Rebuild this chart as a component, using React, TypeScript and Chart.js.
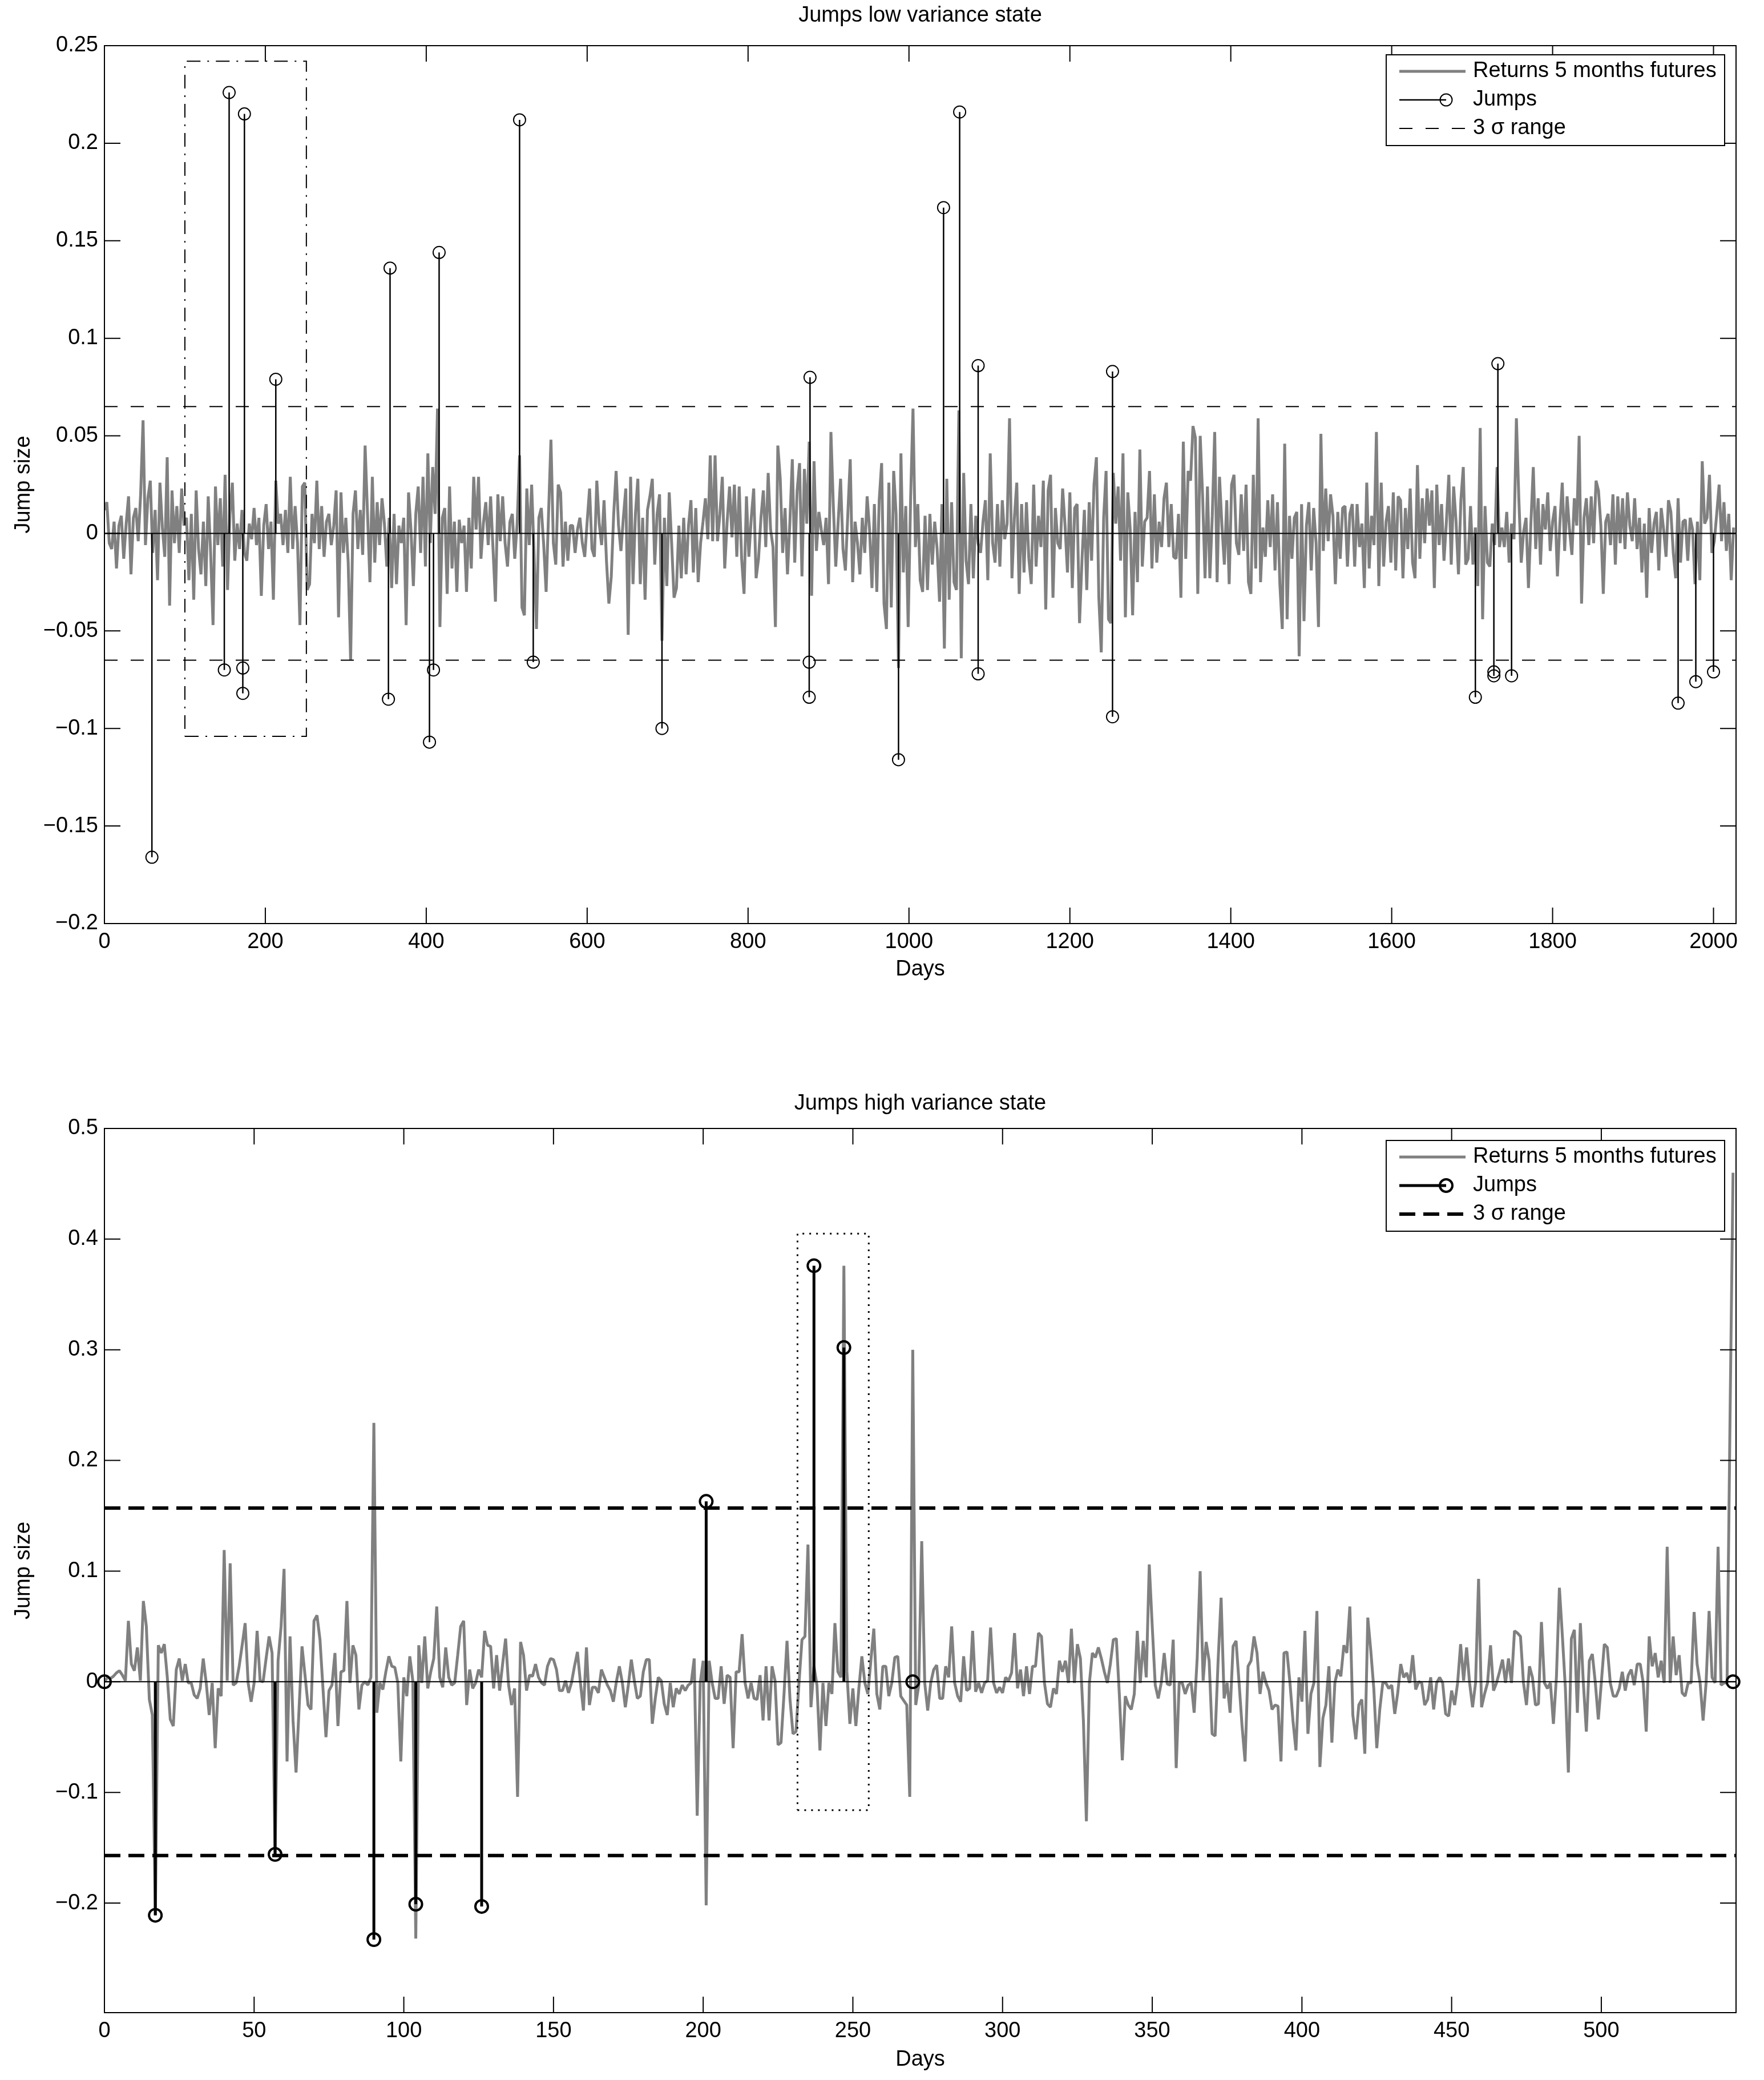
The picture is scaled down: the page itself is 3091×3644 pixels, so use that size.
import React, { useEffect, useRef } from 'react';
import { Chart, registerables } from 'chart.js';

Chart.register(...registerables);

const FONT = "'Liberation Sans', Arial, Helvetica, sans-serif";
const FONT_SIZE = 38;
const GREY = '#808080';
const BLACK = '#000000';

const legendLabels = ['Returns 5 months futures', 'Jumps', '3 \u03c3 range'];
const xAxisLabel = 'Days';
const yAxisLabel = 'Jump size';

// ---------------- Panel 1: low variance state ----------------
const lowTitle = 'Jumps low variance state';
// returns read every 3 days (day = index * 3), values in thousandths
const lowSampleStepDays = 3;
const lowReturnsMilli = [
  12, 16, -5, -8, 6, -18, 4, 9, -13, 5,
  19, -21, 8, 13, -4, 20, 58, -6, 18, 27,
  -10, 12, -24, 26, 3, -12, 39, -37, 22, -5,
  14, -10, 23, 4, 8, -24, 10, -34, 22, -8,
  -21, 6, -27, 19, -10, -47, 24, -6, 18, -17,
  30, -29, 10, 26, -14, 5, -8, 12, -10, -14,
  5, -3, 13, -6, 8, -32, 4, 15, -8, 6,
  -34, 27, 5, 10, -6, 12, -10, 29, -8, 14,
  -5, -47, 24, 26, -29, -26, 10, -5, 27, -8,
  14, -12, 6, 10, -6, 4, 22, -43, 21, -10,
  8, -15, -65, 10, 22, -8, 12, -11, 45, 10,
  -25, 29, -15, 16,
  -6, 18, 5, -17, 8, -28, 10, -26, 4, -5,
  8, -47, 21, 2, -27, 10, 24, -10, 29, -17,
  41, -5, 34, 10, 64, -48, 8, 13, -31, 24,
  -18, 6, -30, 7, -5, 4, -30, 8, -18, 29,
  2, 29, -13, 5, 16, -6, 19, -8, -35, 20,
  -4, 19, -5, -17, 6, 10, -13, 5, 40, -38,
  -42, 23, -6, 25, -10, -49, 8, 13, -6, -30,
  10, 48, -5, -16, 25, 21, -17, 6, -14, 4,
  4, -10, 2, 8, -5, -12, 6, 23, -8, -12,
  27, 5, -6, 17, -14, -36, -22, 10, 32, 4,
  -9, 8, 23, -52, 29, -26, 10, 28, -26, 8,
  -34, 12, 19,
  28, -16, 10, 20, -55, 8, -27, 21, -5, -33,
  -28, 4, -23, 8, -21, 4, 17, -20, 13, -25,
  -5, 6, 18, -3, 40, -4, 40, -4, 10, 29,
  -18, 6, 24, -2, 25, -12, 24, -13, -31, 19,
  -12, 8, 23, -23, -13, 8, 22, -7, 31, 2,
  -7, -48, 45, 28, -10, 13, -21, 6, 38, -15,
  22, 36, -22, 33, 5, 47, -32, 37, -9, 11,
  2, -6, 8, -26, 52, 14, -17, 6, 28, -8,
  -19, 10, 38, -25, 6, -5, -21, 8, -10, 19,
  2, -28, 15, -30, 17, 36, -36, -49, 26, -38,
  32, 10, -69, 41, -20, 14, -48, 17, 64, -7,
  15, -24, -30,
  9, -29, 10, -16, 6, -8, -35, 15, -59, 28,
  -34, 16, -25, -29, 63, -64, 31, -14, -26, 15,
  -23, 9, -5, -10, 6, 17, -24, 41, -5, -15,
  15, -17, 17, -3, 5, 59, -23, 8, 26, -31,
  15, -20, 16, -13, -26, 25, -17, 9, -7, 27,
  -39, 22, 30, -33, 13, -5, -8, 23, 4, -20,
  21, -28, 13, 15, -46, -14, 12, -29, 16, -14,
  25, 39, -33, -61, 8, 32, -44, -46, 31, 5,
  24, -14, 41, -43, 21, 2, -42, 11, -25, 43,
  -17, 6, 8, 32, -18, 20, -15, 6, -7, 18,
  26, -7, 15, -12, -13, 10, -33, 47, -13, 32,
  27, 55,
  49, -31, 50, 19, -23, 24, -23, 9, 52, -25,
  29, 4, -16, 17, -26, 25, 30, -5, -11, 20,
  -9, 25, -25, -31, 30, -18, 59, -25, 3, -12,
  17, -7, 20, -19, 16, -26, -49, 46, -44, 9,
  -13, 8, 11, -63, 15, -45, 4, 16, -19, 13,
  -5, -48, 51, -9, 23, -4, 20, 9, -26, 11,
  -13, 13, 14, -17, 10, 15, -17, 15, -7, 5,
  -28, 26, -18, 9, -6, 52, -27, 26, -17, 6,
  14, -15, 21, -19, 19, 17, -23, 13, -8, 23,
  -15, -23, 35, -13, 18, -5, 23, 4, 22, -28,
  25, -6, 15, -14, 6, 30, -16, 24, 6, -21,
  17, 34, -16,
  -13, 14, -16, 3, -27, 54, -44, 14, -15, -17,
  5, -6, 34, -7, 3, -7, 11, -15, 5, -3,
  59, 18, -15, 1, 8, -28, 5, 34, -8, 18,
  -16, 15, 2, 21, -9, 6, 14, -22, 5, 26,
  -9, 19, 2, -11, 18, 4, 50, -36, 8, 18,
  -6, 19, -5, 27, 22, 4, -31, 6, 10, -6,
  20, -16, 19, -5, 18, -8, 21, 4, -4, 18,
  -8, 8, -20, 5, -33, 13, -10, 5, 11, -19,
  13, 2, -12, 17, 11, -10, -23, 18, -15, 6,
  7, -14, 8, 2, -26, 6, -24, 37, 5, 8,
  30, -10, -4, 10, 25, -4, 16, -9, 10, -24,
  3,
];
const lowJumpDays = [59, 149, 155, 172, 172, 174, 213, 353, 355, 404, 409, 416, 516, 533, 693, 876, 876, 877, 987, 1043, 1063, 1086, 1086, 1253, 1253, 1704, 1727, 1727, 1732, 1749, 1956, 1978, 2000];
const lowJumpSizes = [-0.166, -0.07, 0.226, -0.069, -0.082, 0.215, 0.079, -0.085, 0.136, -0.107, -0.07, 0.144, 0.212, -0.066, -0.1, -0.066, -0.084, 0.08, -0.116, 0.167, 0.216, 0.086, -0.072, 0.083, -0.094, -0.084, -0.071, -0.073, 0.087, -0.073, -0.087, -0.076, -0.071];
const lowSigma3 = 0.065;
const lowBoxDays = [100, 251];
const lowBoxSizes = [-0.104, 0.242];
const lowXRange = [0, 2028];
const lowYRange = [-0.2, 0.25];
const lowXTicks = [0, 200, 400, 600, 800, 1000, 1200, 1400, 1600, 1800, 2000];
const lowYTicks = [-0.2, -0.15, -0.1, -0.05, 0, 0.05, 0.1, 0.15, 0.2, 0.25];

// ---------------- Panel 2: high variance state ----------------
const highTitle = 'Jumps high variance state';
const highSampleStepDays = 1;
const highReturnsMilli = [
  0, 4, 3, 5, 8, 10, 6, 1, 55, 16,
  10, 31, 1, 73, 50, -16, -30, -211, 33, 26,
  34, 4, -34, -40, 11, 21, 1, 16, -1, -1,
  -12, -15, -6, 21, -1, -30, -1, -60, -6, -13,
  119, 1, 107, -3, -1, 14, 33, 53, -1, -18,
  -1, 46, 1, 0, 21, 41, 26, -157, 19, 50,
  102, -72, 41, -35, -82, -25, 32, 6, -21, -25,
  55, 60, 38, -6, -50, -8, -3, 26, -40, 9,
  10, 73, -1, 33, 24, -25, -3, 0, -3, 4,
  234, -28, -1, -7, 9, 23, 14, 13, -1, -72,
  4, -13, 23, 1, -232, 33, -1, 41, -6, 9,
  21, 68, 4, -5, 31, 4, -3, -1, 24, 50,
  55, -21, 11, -6, -1, 11, 4, 46, 33, 32,
  -6, 24, -8, 16, 39, -3, -21, -6, -104, 36,
  24, -8, 6, 5, 16, 4, -1, -3, 14, 21,
  20, 11, -8, -8, 1, -10, -1, 14, 27, -1,
  -26, 31, -21, -5, -5, -10, 11, 4, -3, -8,
  -18, 0, 14, -1, -23, -3, 20, 1, -15, -13,
  9, 20, 20, -38, -15, 4, 1, -20, -30, -1,
  -23, -6, -11, -3, -8, -3, -1, 21, -121, -1,
  19, -202, 19, -1, -15, -15, 14, -20, 6, 4,
  -60, 9, 9, 43, -1, -15, -1, -15, -16, 6,
  -35, 14, -35, 14, 1, -57, -55, -11, 37, -16,
  -47, -45, -1, 38, 41, 124, -23, 14, -3, -62,
  -1, -40, -1, -11, 53, 9, 4, 376, 9, -38,
  -6, -40, -6, 23, -1, -11, 19, 48, -11, -25,
  14, 14, -13, -1, 22, 23, -13, -17, -21, -104,
  300, -21, -3, 127, -1, -26, -1, 11, 15, -15,
  -15, 14, 4, 50, -1, -13, -18, 23, -8, -6,
  46, -9, -1, -10, -1, 1, 49, -1, -10, -5,
  -10, 4, 1, 8, 44, -6, 11, -13, 14, -11,
  14, 14, 44, 41, -1, -20, -23, -6, -11, 19,
  9, 19, -1, 48, -1, 34, 21, -35, -126, -1,
  26, 22, 31, 21, 9, -1, 16, 38, 39, -11,
  -71, -13, -21, -25, -11, 46, -1, 37, 4, 106,
  50, -3, -15, -1, 26, -2, -3, 38, -78, -1,
  -1, -11, -3, -1, -28, 21, 100, 1, 36, 19,
  -47, -49, 19, 76, -15, -1, -28, 32, 37, -1,
  -40, -72, 14, 19, 41, 26, -11, 9, -1, -8,
  -25, -21, -22, -72, 26, 27, -1, -35, -62, 4,
  -18, 46, -47, -11, -1, 64, -77, -33, -21, 14,
  -55, -1, 11, 5, 33, 26, 68, -30, -52, -21,
  -16, -65, 58, 28, -6, -60, -25, -1, -1, -6,
  -3, -29, -10, 16, 4, 8, -1, 24, -7, 0,
  -1, -21, -16, 4, -25, -1, 4, -1, -29, -31,
  -8, -21, -1, 34, 1, 31, -1, -23, -1, 93,
  -23, -11, -1, 33, -8, -1, 9, 20, -1, 21,
  -1, 46, 44, 41, -1, -21, 14, 4, -21, -20,
  54, -1, -6, -1, -38, 4, 85, 41, -6, -82,
  39, 47, -28, 53, -1, -45, 19, 25, -1, -34,
  -1, 34, 31, -1, -13, -13, -6, 9, -8, 6,
  11, -3, 16, 16, -1, -45, 41, 14, 26, 4,
  19, -1, 122, -1, 41, 6, 24, -10, -13, -1,
  -1, 63, 16, -1, -35, -1, 64, 4, -1, 122,
  -3, -1, -1, 240, 460,
];
const highJumpDays = [0, 17, 57, 90, 104, 126, 201, 237, 247, 270, 544];
const highJumpSizes = [0, -0.211, -0.156, -0.233, -0.201, -0.203, 0.163, 0.376, 0.302, 0, 0];
const highSigma3 = 0.157;
const highBoxDays = [231.5, 255.3];
const highBoxSizes = [-0.116, 0.405];
const highXRange = [0, 545];
const highYRange = [-0.299, 0.5];
const highXTicks = [0, 50, 100, 150, 200, 250, 300, 350, 400, 450, 500];
const highYTicks = [-0.2, -0.1, 0, 0.1, 0.2, 0.3, 0.4, 0.5];

const fmtTick = (v: number) => {
  const r = Math.round(v * 1000) / 1000;
  if (r === 0) return '0';
  return (r < 0 ? '\u2212' : '') + String(Math.abs(r));
};

const matlabAxesPlugin = {
  id: 'matlabAxes',
  afterDatasetsDraw(chart: any, _args: any, opts: any) {
    const ctx = chart.ctx;
    const a = chart.chartArea;
    const xs = chart.scales.x;
    const ys = chart.scales.y;
    ctx.save();
    ctx.setLineDash([]);
    ctx.strokeStyle = BLACK;
    ctx.lineWidth = 2;
    ctx.beginPath();
    for (const t of xs.ticks) {
      const px = xs.getPixelForValue(t.value);
      ctx.moveTo(px, a.bottom);
      ctx.lineTo(px, a.bottom - opts.tickLength);
      ctx.moveTo(px, a.top);
      ctx.lineTo(px, a.top + opts.tickLength);
    }
    for (const t of ys.ticks) {
      const py = ys.getPixelForValue(t.value);
      ctx.moveTo(a.left, py);
      ctx.lineTo(a.left + opts.tickLength, py);
      ctx.moveTo(a.right, py);
      ctx.lineTo(a.right - opts.tickLength, py);
    }
    ctx.stroke();
    ctx.strokeRect(a.left, a.top, a.right - a.left, a.bottom - a.top);

    // texts
    ctx.fillStyle = BLACK;
    ctx.font = `${opts.fontSize}px ${FONT}`;
    ctx.textAlign = 'center';
    ctx.textBaseline = 'middle';
    const cx = (a.left + a.right) / 2;
    ctx.fillText(opts.title, cx, opts.titleY);
    ctx.fillText(opts.xLabel, cx, opts.xLabelY);
    ctx.save();
    ctx.translate(opts.yLabelX, (a.top + a.bottom) / 2);
    ctx.rotate(-Math.PI / 2);
    ctx.fillText(opts.yLabel, 0, 0);
    ctx.restore();

    // legend
    const L = opts.legend;
    ctx.fillStyle = '#ffffff';
    ctx.fillRect(L.left, L.top, L.width, L.height);
    ctx.strokeStyle = BLACK;
    ctx.lineWidth = 2;
    ctx.strokeRect(L.left, L.top, L.width, L.height);
    const rowY = (i: number) => L.top + L.firstRow + i * L.rowGap;
    ctx.strokeStyle = GREY;
    ctx.lineWidth = opts.returnsWidth;
    ctx.beginPath();
    ctx.moveTo(L.sampleX0, rowY(0));
    ctx.lineTo(L.sampleX1, rowY(0));
    ctx.stroke();
    ctx.strokeStyle = BLACK;
    ctx.lineWidth = opts.stemWidth;
    ctx.beginPath();
    ctx.moveTo(L.sampleX0, rowY(1));
    ctx.lineTo(L.markerX, rowY(1));
    ctx.stroke();
    ctx.lineWidth = opts.markerWidth;
    ctx.beginPath();
    ctx.arc(L.markerX, rowY(1), opts.markerRadius, 0, Math.PI * 2);
    ctx.stroke();
    ctx.lineWidth = opts.sigmaWidth;
    ctx.setLineDash(opts.sigmaDash);
    ctx.beginPath();
    ctx.moveTo(L.sampleX0, rowY(2));
    ctx.lineTo(L.sampleX1, rowY(2));
    ctx.stroke();
    ctx.setLineDash([]);
    ctx.fillStyle = BLACK;
    ctx.textAlign = 'left';
    ctx.textBaseline = 'middle';
    opts.labels.forEach((s: string, i: number) => ctx.fillText(s, L.textX, rowY(i)));
    ctx.restore();
  },
};

type PanelData = {
  title: string;
  step: number;
  returnsMilli: number[];
  jumpDays: number[];
  jumpSizes: number[];
  sigma3: number;
  boxDays: number[];
  boxSizes: number[];
  xRange: number[];
  yRange: number[];
  xTicks: number[];
  yTicks: number[];
};

type PanelStyle = {
  canvasTop: number;
  canvasHeight: number;
  padTop: number;
  xAxisHeight: number;
  titleY: number;
  xLabelY: number;
  legendTop: number;
  returnsWidth: number;
  stemWidth: number;
  markerRadius: number;
  markerWidth: number;
  sigmaWidth: number;
  sigmaDash: number[];
  boxDash: number[];
  boxWidth: number;
};

const WIDTH = 3091;

function Panel({ data, style }: { data: PanelData; style: PanelStyle }) {
  const ref = useRef<HTMLCanvasElement>(null);
  useEffect(() => {
    const canvas = ref.current;
    if (!canvas) return;
    const returns = data.returnsMilli.map((v, i) => ({ x: i * data.step, y: v / 1000 }));
    const stems: any[] = [];
    data.jumpDays.forEach((d, i) => {
      stems.push({ x: d, y: 0 }, { x: d, y: data.jumpSizes[i] }, { x: d, y: null });
    });
    const jumps = data.jumpDays.map((d, i) => ({ x: d, y: data.jumpSizes[i] }));
    const [x0, x1] = data.xRange;
    const [bx0, bx1] = data.boxDays;
    const [by0, by1] = data.boxSizes;
    const box = [
      { x: bx0, y: by0 }, { x: bx1, y: by0 }, { x: bx1, y: by1 }, { x: bx0, y: by1 }, { x: bx0, y: by0 },
    ];
    const common = { pointRadius: 0, pointHoverRadius: 0, fill: false, tension: 0 };
    const chart = new Chart(canvas, {
      type: 'line',
      data: {
        datasets: [
          { ...common, label: legendLabels[0], data: returns, borderColor: GREY, borderWidth: style.returnsWidth, borderJoinStyle: 'bevel', order: 10 },
          { ...common, label: 'baseline', data: [{ x: x0, y: 0 }, { x: x1, y: 0 }], borderColor: BLACK, borderWidth: 2, order: 9 },
          { ...common, label: 'stems', data: stems, borderColor: BLACK, borderWidth: style.stemWidth, spanGaps: false, order: 6 },
          {
            label: legendLabels[1], data: jumps, showLine: false, pointStyle: 'circle', pointRadius: style.markerRadius,
            pointHoverRadius: style.markerRadius, pointBorderWidth: style.markerWidth, pointBorderColor: BLACK,
            pointBackgroundColor: 'rgba(0,0,0,0)', borderColor: BLACK, clip: false, order: 5,
          },
          { ...common, label: legendLabels[2], data: [{ x: x0, y: data.sigma3 }, { x: x1, y: data.sigma3 }], borderColor: BLACK, borderWidth: style.sigmaWidth, borderDash: style.sigmaDash, order: 4 },
          { ...common, label: 'sigmaLow', data: [{ x: x0, y: -data.sigma3 }, { x: x1, y: -data.sigma3 }], borderColor: BLACK, borderWidth: style.sigmaWidth, borderDash: style.sigmaDash, order: 4 },
          { ...common, label: 'box', data: box, borderColor: BLACK, borderWidth: style.boxWidth, borderDash: style.boxDash, order: 3 },
        ],
      } as any,
      options: {
        animation: false,
        responsive: false,
        devicePixelRatio: 1,
        events: [],
        layout: { padding: { left: 0, right: 49, top: style.padTop, bottom: 0 } },
        scales: {
          x: {
            type: 'linear',
            min: x0,
            max: x1,
            grid: { display: false, drawTicks: false },
            border: { display: false },
            ticks: {
              color: BLACK,
              font: { family: FONT, size: FONT_SIZE },
              padding: 10,
              maxRotation: 0,
              autoSkip: false,
              callback: (v: any) => fmtTick(Number(v)),
            },
            afterBuildTicks: (s: any) => {
              s.ticks = data.xTicks.map((v) => ({ value: v }));
            },
            afterFit: (s: any) => {
              s.height = style.xAxisHeight;
            },
          },
          y: {
            type: 'linear',
            min: data.yRange[0],
            max: data.yRange[1],
            grid: { display: false, drawTicks: false },
            border: { display: false },
            ticks: {
              color: BLACK,
              font: { family: FONT, size: FONT_SIZE },
              padding: 11,
              autoSkip: false,
              callback: (v: any) => fmtTick(Number(v)),
            },
            afterBuildTicks: (s: any) => {
              s.ticks = data.yTicks.map((v) => ({ value: v }));
            },
            afterFit: (s: any) => {
              s.width = 183;
            },
          },
        },
        plugins: {
          legend: { display: false },
          tooltip: { enabled: false },
          title: { display: false },
          matlabAxes: {
            tickLength: 28,
            fontSize: FONT_SIZE,
            title: data.title,
            titleY: style.titleY,
            xLabel: xAxisLabel,
            xLabelY: style.xLabelY,
            yLabel: yAxisLabel,
            yLabelX: 42,
            labels: legendLabels,
            returnsWidth: style.returnsWidth,
            stemWidth: style.stemWidth,
            markerRadius: style.markerRadius,
            markerWidth: style.markerWidth,
            sigmaWidth: style.sigmaWidth,
            sigmaDash: style.sigmaDash,
            legend: {
              left: 2429, top: style.legendTop, width: 593, height: 159,
              firstRow: 29, rowGap: 50, sampleX0: 2452, sampleX1: 2568, markerX: 2534, textX: 2581,
            },
          },
        } as any,
      } as any,
      plugins: [matlabAxesPlugin as any],
    });
    return () => chart.destroy();
  }, [data, style]);
  return (
    <canvas
      ref={ref}
      width={WIDTH}
      height={style.canvasHeight}
      style={{ position: 'absolute', left: 0, top: style.canvasTop, width: WIDTH, height: style.canvasHeight }}
    />
  );
}

const lowData: PanelData = {
  title: lowTitle, step: lowSampleStepDays, returnsMilli: lowReturnsMilli, jumpDays: lowJumpDays, jumpSizes: lowJumpSizes,
  sigma3: lowSigma3, boxDays: lowBoxDays, boxSizes: lowBoxSizes, xRange: lowXRange, yRange: lowYRange, xTicks: lowXTicks, yTicks: lowYTicks,
};
const highData: PanelData = {
  title: highTitle, step: highSampleStepDays, returnsMilli: highReturnsMilli, jumpDays: highJumpDays, jumpSizes: highJumpSizes,
  sigma3: highSigma3, boxDays: highBoxDays, boxSizes: highBoxSizes, xRange: highXRange, yRange: highYRange, xTicks: highXTicks, yTicks: highYTicks,
};

const lowStyle: PanelStyle = {
  canvasTop: 0, canvasHeight: 1760, padTop: 80, xAxisHeight: 142, titleY: 28, xLabelY: 1699, legendTop: 96,
  returnsWidth: 5, stemWidth: 2.5, markerRadius: 10.5, markerWidth: 2, sigmaWidth: 2, sigmaDash: [23, 23], boxDash: [24, 12, 3, 12], boxWidth: 2,
};
const highStyle: PanelStyle = {
  canvasTop: 1800, canvasHeight: 1844, padTop: 177, xAxisHeight: 118, titleY: 134, xLabelY: 1809, legendTop: 198,
  returnsWidth: 5, stemWidth: 5, markerRadius: 11, markerWidth: 4, sigmaWidth: 6, sigmaDash: [28, 14], boxDash: [3, 9], boxWidth: 3,
};

export default function App() {
  return (
    <div style={{ position: 'absolute', left: 0, top: 0, width: WIDTH, height: 3644, background: '#ffffff', overflow: 'hidden' }}>
      <Panel data={lowData} style={lowStyle} />
      <Panel data={highData} style={highStyle} />
    </div>
  );
}
